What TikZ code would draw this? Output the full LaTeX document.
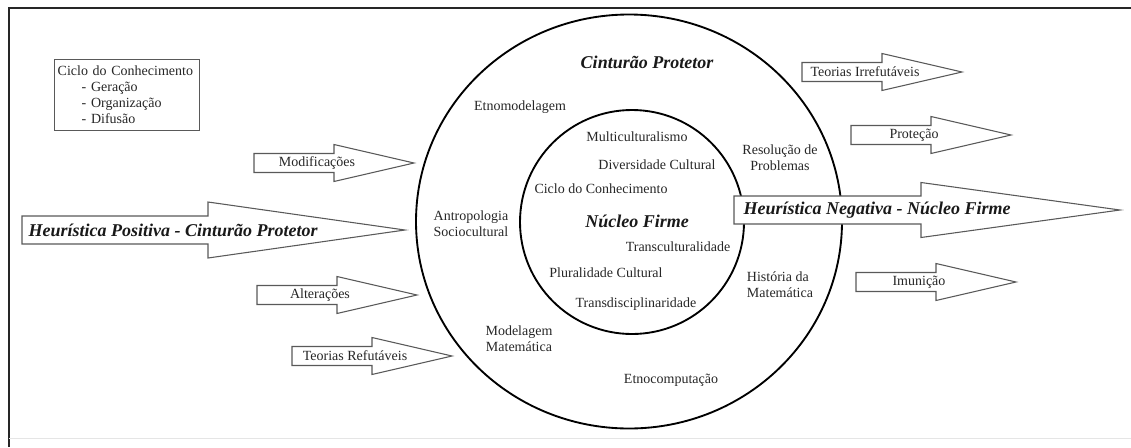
\documentclass[tikz,border=0pt]{standalone}
\usepackage{fontspec}
\setmainfont{Liberation Serif}
\usetikzlibrary{calc}

\begin{document}
\begin{tikzpicture}[x=0.75pt,y=-0.75pt,
    lbl/.style={font=\fontsize{10.5}{12}\selectfont, text=black!85, inner sep=1pt},
    titulo/.style={font=\fontsize{13.5}{15}\selectfont\bfseries\itshape, text=black!90, inner sep=1pt},
    seta/.style={draw=black!65, line width=0.8pt, fill=white, line join=miter},
    circulo/.style={draw=black, line width=1.4pt}]
        \useasboundingbox (0,0) rectangle (1131,447);
        \coordinate (C) at (629,221.5);
        \coordinate (N) at (632,222);
        % moldura
        \draw[line width=2pt, black!85] (9,447) -- (9,8) -- (1131,8);
        \draw[line width=0.6pt, black!10] (9,438) -- (1131,438);
        % caixa do ciclo
        \node[lbl, draw=black!65, line width=0.6pt, align=left, anchor=north west,
              text width=104pt, inner xsep=2.5pt, inner ysep=3pt, minimum height=53pt] (ciclobox) at (54,59)
              {Ciclo do Conhecimento\\ \hspace*{18pt}- Geração\\ \hspace*{18pt}- Organização\\ \hspace*{18pt}- Difusão};
        % circulos
        \draw[circulo] (C) ellipse [x radius=213, y radius=207];
        \draw[circulo] (N) circle (112);
        % setas pequenas
        \foreach \ax/\ay/\nm/\txt in {254/163/modif/Modificações, 257/295/alter/Alterações,
                292/356/refut/Teorias Refutáveis, 802/72/irref/Teorias Irrefutáveis,
                851/135/prot/Proteção, 856/282/imun/Imunição}{
            \draw[seta] (\ax,\ay-9.5) -- ++(80,0) -- ++(0,-9) -- (\ax+160,\ay)
                -- (\ax+80,\ay+18.5) -- ++(0,-9) -- (\ax,\ay+9.5) -- cycle;
            \node[lbl] (\nm) at (\ax+63,\ay) {\txt};
        }
        % setas grandes
        \draw[seta] (22,216) -- (208,216) -- (208,202) -- (405,230)
            -- (208,258) -- (208,244) -- (22,244) -- cycle;
        \node[titulo, anchor=west] (hpos) at (27,230) {Heurística Positiva - Cinturão Protetor};
        \draw[seta] (734,196) -- (921,196) -- (921,182.5) -- (1120,210)
            -- (921,237.5) -- (921,224) -- (734,224) -- cycle;
        \node[titulo, anchor=west] (hneg) at (742,210) {Heurística Negativa - Núcleo Firme};
        % cinturao protetor
        \node[titulo] (cint) at (647,62) {Cinturão Protetor};
        \node[lbl] (etnomod) at (520,107) {Etnomodelagem};
        \node[lbl, align=center] (antrop) at (471,224) {Antropologia\\Sociocultural};
        \node[lbl, align=center] (modmat) at (519,339) {Modelagem\\Matemática};
        \node[lbl] (etnocomp) at (671,380) {Etnocomputação};
        \node[lbl, align=center] (resol) at (780,158) {Resolução de\\Problemas};
        \node[lbl, align=left] (hist) at (780,285) {História da\\Matemática};
        % nucleo firme
        \node[titulo] (nucleo) at (637,221) {Núcleo Firme};
        \node[lbl] (multi) at (637,137) {Multiculturalismo};
        \node[lbl] (divers) at (657,165) {Diversidade Cultural};
        \node[lbl] (ciclo) at (601,189) {Ciclo do Conhecimento};
        \node[lbl] (transc) at (678,247) {Transculturalidade};
        \node[lbl] (plural) at (606,273) {Pluralidade Cultural};
        \node[lbl] (transd) at (636,304) {Transdisciplinaridade};
    \end{tikzpicture}
\end{document}
